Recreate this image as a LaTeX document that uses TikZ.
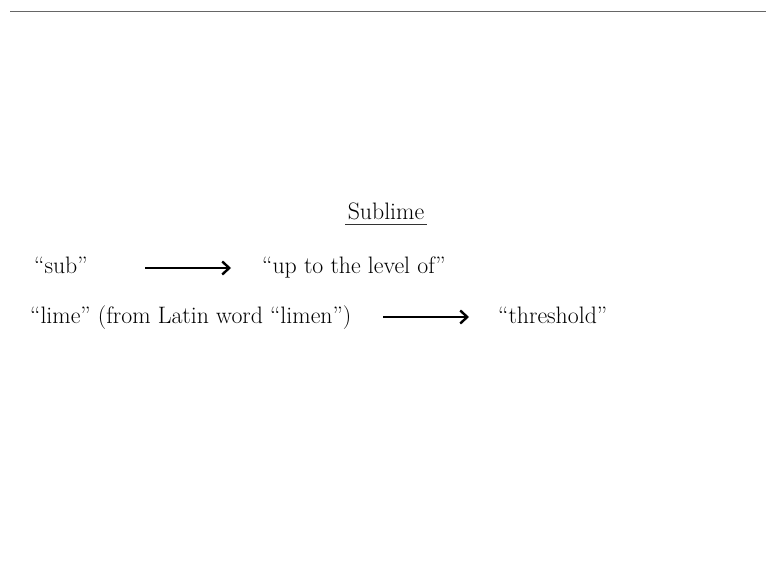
\documentclass[tikz,border=0pt]{standalone}
\usetikzlibrary{arrows.meta}
\begin{document}
\begin{tikzpicture}[x=1pt,y=-1pt,
  txt/.style={font=\fontsize{23.8}{28}\selectfont, inner sep=0pt, anchor=base west},
  arr/.style={line width=2.6pt, -{Straight Barb[length=7pt,width=13pt,line width=2.4pt]}}]
\useasboundingbox (0,0) rectangle (766,583);
\fill[white] (0,0) rectangle (766,583);
\coordinate (tl) at (10,11);
\coordinate (tr) at (766,11);
\draw[gray!80!black, line width=0.9pt] (tl) -- (tr);
\node[txt, anchor=base] (title) at (386,219) {Sublime};
\coordinate (ul1) at (345,224.5);
\coordinate (ul2) at (427,224.5);
\draw[line width=1.3pt, black!80] (ul1) -- (ul2);
\node[txt] (sub) at (34,273) {``sub''};
\node[txt] (up) at (262,273) {``up to the level of''};
\node[txt] (lime) at (30,323) {``lime'' (from Latin word ``limen'')};
\node[txt] (thr) at (498,323) {``threshold''};
\coordinate (a1s) at (145,268);
\coordinate (a1e) at (231,268);
\coordinate (a2s) at (383,317);
\coordinate (a2e) at (469,317);
\draw[arr] (a1s) -- (a1e);
\draw[arr] (a2s) -- (a2e);
\end{tikzpicture}
\end{document}
